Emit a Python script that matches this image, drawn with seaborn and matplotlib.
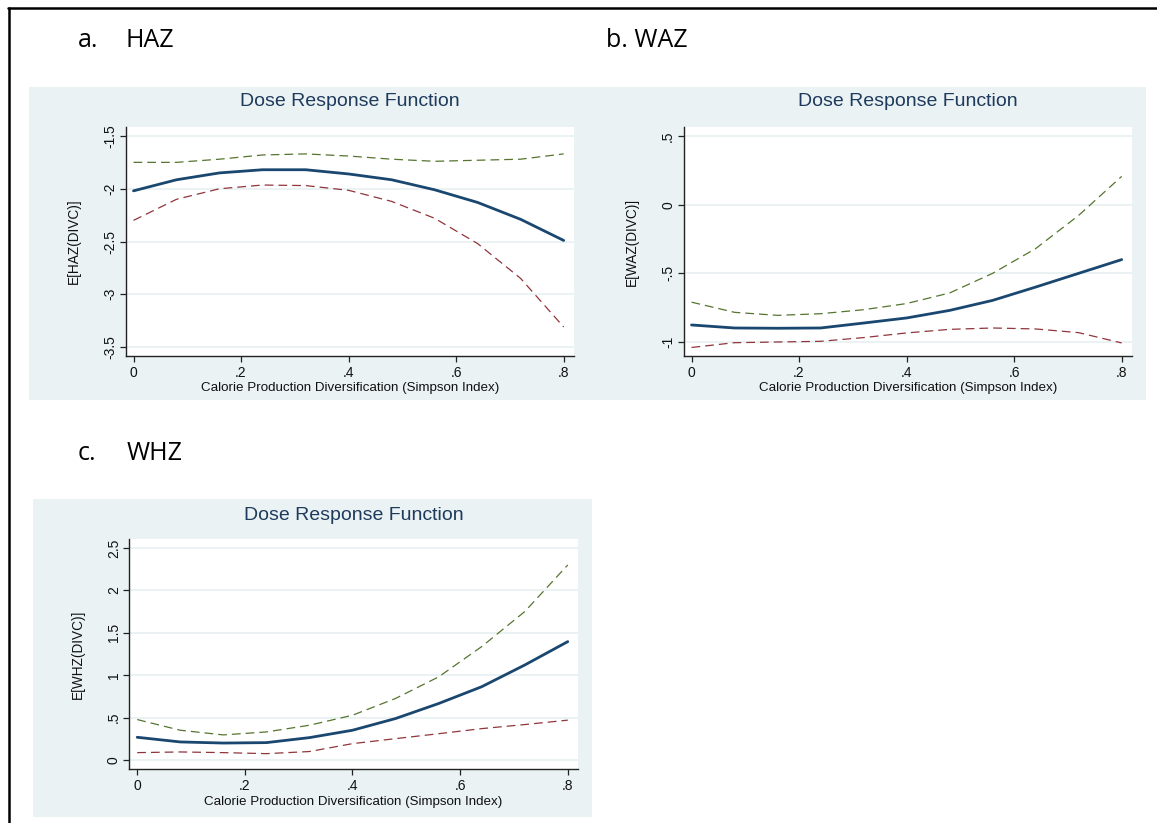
import matplotlib
matplotlib.use("Agg")
import matplotlib.pyplot as plt
import seaborn as sns
import numpy as np
import pandas as pd
from matplotlib.patches import Rectangle
from matplotlib.lines import Line2D

# ---------------- data ----------------
simpson = [0.0, 0.08, 0.16, 0.24, 0.32, 0.40, 0.48, 0.56, 0.64, 0.72, 0.80]

haz_est = [-2.02, -1.915, -1.85, -1.82, -1.82, -1.86, -1.915, -2.01, -2.13, -2.29, -2.49]
haz_hi = [-1.75, -1.75, -1.72, -1.68, -1.67, -1.69, -1.72, -1.74, -1.73, -1.72, -1.67]
haz_lo = [-2.30, -2.10, -2.00, -1.965, -1.97, -2.015, -2.12, -2.28, -2.52, -2.85, -3.31]

waz_est = [-0.876, -0.898, -0.90, -0.898, -0.862, -0.825, -0.77, -0.697, -0.60, -0.50, -0.40]
waz_hi = [-0.71, -0.784, -0.806, -0.794, -0.765, -0.72, -0.643, -0.50, -0.32, -0.078, 0.206]
waz_lo = [-1.04, -1.005, -1.0, -0.995, -0.968, -0.934, -0.908, -0.898, -0.905, -0.932, -1.007]

whz_est = [0.268, 0.213, 0.20, 0.205, 0.264, 0.351, 0.489, 0.666, 0.864, 1.12, 1.396]
whz_hi = [0.477, 0.351, 0.296, 0.331, 0.41, 0.528, 0.726, 0.98, 1.337, 1.75, 2.30]
whz_lo = [0.087, 0.095, 0.087, 0.075, 0.10, 0.193, 0.252, 0.31, 0.37, 0.418, 0.47]

x_ticks = [0.0, 0.2, 0.4, 0.6, 0.8]
x_ticklabels = ["0", ".2", ".4", ".6", ".8"]

haz_yticks = [-1.5, -2.0, -2.5, -3.0, -3.5]
haz_yticklabels = ["-1.5", "-2", "-2.5", "-3", "-3.5"]
waz_yticks = [0.5, 0.0, -0.5, -1.0]
waz_yticklabels = [".5", "0", "-.5", "-1"]
whz_yticks = [2.5, 2.0, 1.5, 1.0, 0.5, 0.0]
whz_yticklabels = ["2.5", "2", "1.5", "1", ".5", "0"]

title = "Dose Response Function"
xlabel = "Calorie Production Diversification (Simpson Index)"

# ---------------- style ----------------
sns.set_theme(style="white")
plt.rcParams["font.family"] = ["Liberation Sans", "DejaVu Sans"]

W, H = 1157, 823
fig = plt.figure(figsize=(W / 100, H / 100), dpi=100)
fig.patch.set_facecolor("white")

BG = "#eaf2f3"
NAVY = "#1a476f"
GREEN = "#55752f"
RED = "#90353b"
TITLE_C = "#1e3a5c"


def fx(px):
    return px / W


def fy(py):
    return 1 - py / H


# frame lines
fig.add_artist(Line2D([fx(8), fx(1157)], [fy(8), fy(8)], color="black", lw=1.8))
fig.add_artist(Line2D([fx(9), fx(9)], [fy(8), fy(823)], color="black", lw=1.8))


def bg_rect(x0, y0, x1, y1):
    fig.add_artist(Rectangle((fx(x0), fy(y1)), fx(x1) - fx(x0), fy(y0) - fy(y1),
                             facecolor=BG, edgecolor="none", zorder=0))


bg_rect(28.5, 87, 582, 400)
bg_rect(582, 87, 1146, 400)
bg_rect(32.8, 499, 592, 817)


def panel(box, xlim, ylim, yticks, yticklabels, est, hi, lo, ylab, title_pad):
    x0, y0, x1, y1 = box
    ax = fig.add_axes([fx(x0), fy(y1), fx(x1) - fx(x0), fy(y0) - fy(y1)])
    ax.set_facecolor("white")
    df = pd.DataFrame({"x": simpson, "est": est, "hi": hi, "lo": lo})
    sns.lineplot(data=df, x="x", y="hi", ax=ax, color=GREEN, lw=0.9,
                 dashes=False, linestyle=(0, (7, 4)), zorder=3)
    sns.lineplot(data=df, x="x", y="lo", ax=ax, color=RED, lw=0.9,
                 dashes=False, linestyle=(0, (7, 4)), zorder=3)
    sns.lineplot(data=df, x="x", y="est", ax=ax, color=NAVY, lw=2.0, zorder=4)
    ax.set_xlim(*xlim)
    ax.set_ylim(*ylim)
    ax.set_xticks(x_ticks)
    ax.set_xticklabels(x_ticklabels, fontsize=10)
    ax.set_yticks(yticks)
    ax.set_yticklabels(yticklabels, fontsize=10, rotation=90, va="center")
    for y in yticks:
        ax.axhline(y, color=BG, lw=1.4, zorder=1)
    for s in ["top", "right"]:
        ax.spines[s].set_visible(False)
    for s in ["left", "bottom"]:
        ax.spines[s].set_color("#222222")
        ax.spines[s].set_linewidth(1.0)
    ax.tick_params(axis="both", which="major", direction="out", length=4,
                   width=0.9, color="#222222", labelcolor="#111111",
                   left=True, bottom=True)
    ax.tick_params(axis="x", pad=3.5)
    ax.tick_params(axis="y", pad=2)
    ax.set_xlabel(xlabel, fontsize=9.6, color="#111111", labelpad=1.5)
    ax.set_ylabel(ylab, fontsize=9.8, color="#111111", labelpad=16)
    ax.set_title(title, fontsize=14, color=TITLE_C, pad=title_pad)
    ax.grid(False)
    return ax


panel((125.5, 127, 574, 356), (-0.0149, 0.8192), (-3.585, -1.415),
      haz_yticks, haz_yticklabels, haz_est, haz_hi, haz_lo, "E[HAZ(DIVC)]", 15)
panel((683.5, 127, 1132, 356), (-0.0149, 0.8192), (-1.102, 0.5656),
      waz_yticks, waz_yticklabels, waz_est, waz_hi, waz_lo, "E[WAZ(DIVC)]", 15)
panel((129.3, 539, 578, 769), (-0.0147, 0.819), (-0.106, 2.606),
      whz_yticks, whz_yticklabels, whz_est, whz_hi, whz_lo, "E[WHZ(DIVC)]", 14)

# panel labels
lab_kw = dict(fontsize=18, family=["Open Sans", "DejaVu Sans"], color="black",
              va="baseline", ha="left")
fig.text(fx(78), fy(47), "a.", **lab_kw)
fig.text(fx(126), fy(47), "HAZ", **lab_kw)
fig.text(fx(606), fy(47), "b. WAZ", **lab_kw)
fig.text(fx(78), fy(460), "c.", **lab_kw)
fig.text(fx(126.5), fy(460), "WHZ", **lab_kw)

fig.savefig("out.png", dpi=100, facecolor="white")
